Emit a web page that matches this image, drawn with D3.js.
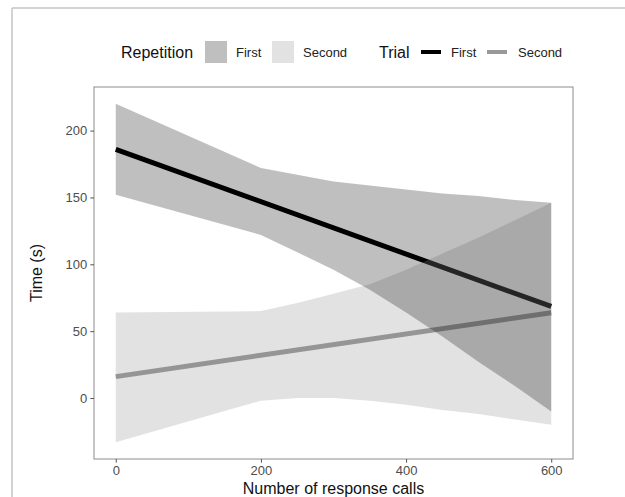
<!DOCTYPE html>
<html><head><meta charset="utf-8">
<script src="https://cdn.jsdelivr.net/npm/d3@7"></script>
<style>body{margin:0;background:#fff}svg{display:block}text{font-family:"Liberation Sans",Arial,sans-serif}</style>
</head><body>
<svg id="c" width="625" height="497"></svg>
<script>
const ribbonX = [0, 200, 250, 300, 350, 400, 450, 500, 550, 600];
const firstUpper = [220, 172, 167, 162, 159, 156, 153, 151, 148, 146];
const firstLower = [152, 122, 109, 96, 81, 64, 46, 27, 9, -10];
const secondUpper = [64, 65, 71, 78, 85, 96, 108, 120, 133, 146];
const secondLower = [-33, -2, 0, 0, -2, -5, -9, -12, -16, -20];
const lineX = [0, 600];
const trialFirst = [186, 68.5];
const trialSecond = [16, 63.8];
const xTicks = [0, 200, 400, 600];
const yTicks = [0, 50, 100, 150, 200];
const repetitionLabels = ["First", "Second"];
const trialLabels = ["First", "Second"];

const svg = d3.select("#c");
// outer frame
svg.append("line").attr("x1",12).attr("x2",625).attr("y1",8).attr("y2",8).attr("stroke","#c4c4c4").attr("stroke-width",1.5);
svg.append("line").attr("x1",12).attr("x2",12).attr("y1",8).attr("y2",497).attr("stroke","#c4c4c4").attr("stroke-width",1.5);

const L=94, R=573, T=87, B=459;
const x = d3.scaleLinear().domain([-30,630]).range([L,R]);
const y = d3.scaleLinear().domain([-45.6,232.6]).range([B,T]);

const ribStyle = [{fill:"#000", op:0.25},{fill:"#a1a1a1", op:0.31}];
const lineCol = ["#000000", "#909090"];

const clip = svg.append("clipPath").attr("id","pc").append("rect").attr("x",L).attr("y",T).attr("width",R-L).attr("height",B-T);
const g = svg.append("g").attr("clip-path","url(#pc)");

const lineGen = d3.line().x(d=>x(d[0])).y(d=>y(d[1]));
[trialFirst, trialSecond].forEach((s,i)=>{
  g.append("path").datum(lineX.map((v,j)=>[v,s[j]])).attr("d",lineGen)
   .attr("fill","none").attr("stroke",lineCol[i]).attr("stroke-width",5);
});
const area = d3.area().x(d=>x(d.x)).y0(d=>y(d.lo)).y1(d=>y(d.hi));
[[secondLower,secondUpper,1],[firstLower,firstUpper,0]].forEach(([lo,hi,k])=>{
  g.append("path").datum(ribbonX.map((v,j)=>({x:v,lo:lo[j],hi:hi[j]}))).attr("d",area)
   .attr("fill",ribStyle[k].fill).attr("fill-opacity",ribStyle[k].op);
});

// panel border
svg.append("rect").attr("x",L).attr("y",T).attr("width",R-L).attr("height",B-T).attr("fill","none").attr("stroke","#8c8c8c").attr("stroke-width",1);

// axes
const xa = svg.append("g").attr("transform",`translate(0,${B})`).call(d3.axisBottom(x).tickValues(xTicks).tickSize(3.7).tickSizeOuter(0).tickPadding(3));
const ya = svg.append("g").attr("transform",`translate(${L},0)`).call(d3.axisLeft(y).tickValues(yTicks).tickSize(3.7).tickSizeOuter(0).tickPadding(3));
[xa,ya].forEach(a=>{
  a.select(".domain").remove();
  a.selectAll(".tick line").attr("stroke","#555");
  a.selectAll(".tick text").attr("fill","#4d4d4d").style("font-size","13px").style("font-family","Liberation Sans, Arial, sans-serif");
});

svg.append("text").attr("x",(L+R)/2).attr("y",494).attr("text-anchor","middle").style("font-size","16px").attr("fill","#111").text("Number of response calls");
svg.append("text").attr("transform",`translate(42,${(T+B)/2}) rotate(-90)`).attr("text-anchor","middle").style("font-size","16px").attr("fill","#111").text("Time (s)");

// legend
const ly = 52;
svg.append("text").attr("x",121).attr("y",ly).attr("dy","0.35em").style("font-size","16px").attr("fill","#111").text("Repetition");
const boxX = [205, 272], boxLabX = [236, 303];
repetitionLabels.forEach((lab,i)=>{
  svg.append("rect").attr("x",boxX[i]).attr("y",ly-11).attr("width",22).attr("height",22).attr("fill","#fff");
  svg.append("rect").attr("x",boxX[i]).attr("y",ly-11).attr("width",22).attr("height",22).attr("fill",ribStyle[i].fill).attr("fill-opacity",ribStyle[i].op);
  svg.append("text").attr("x",boxLabX[i]).attr("y",ly).attr("dy","0.35em").style("font-size","13px").attr("fill","#222").text(lab);
});
svg.append("text").attr("x",379).attr("y",ly).attr("dy","0.35em").style("font-size","16px").attr("fill","#111").text("Trial");
const lkX = [421, 487], lkLabX = [451, 518];
const legendLineCol = ["#000000", "#999999"];
trialLabels.forEach((lab,i)=>{
  svg.append("line").attr("x1",lkX[i]).attr("x2",lkX[i]+20).attr("y1",ly).attr("y2",ly).attr("stroke",legendLineCol[i]).attr("stroke-width",4);
  svg.append("text").attr("x",lkLabX[i]).attr("y",ly).attr("dy","0.35em").style("font-size","13px").attr("fill","#222").text(lab);
});
</script>
</body></html>
